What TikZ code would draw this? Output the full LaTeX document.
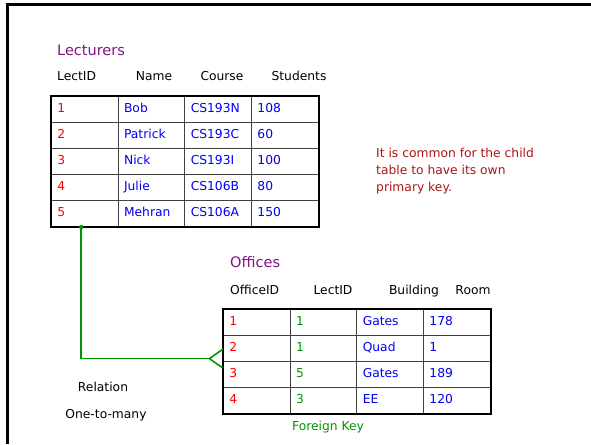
\documentclass[tikz,border=0pt]{standalone}
\usepackage{fontspec}
\setmainfont{DejaVu Sans}
\usetikzlibrary{matrix,positioning}

\definecolor{titlepurple}{RGB}{130,20,130}
\definecolor{keyred}{RGB}{250,0,0}
\definecolor{valblue}{RGB}{0,0,240}
\definecolor{fkgreen}{RGB}{0,150,0}
\definecolor{notered}{RGB}{170,20,20}

\tikzset{
  tabtitle/.style={text=titlepurple, font=\fontsize{14.5}{17}\selectfont, anchor=west, inner sep=0pt},
  colhead/.style={font=\fontsize{12.3}{14}\selectfont, inner sep=0pt, text height=9pt, text depth=3pt},
  plain/.style={font=\fontsize{12.3}{14}\selectfont, inner sep=0pt},
  tbl/.style={matrix of nodes, anchor=north west, inner sep=0pt,
    column sep=-0.9pt, row sep=-0.9pt,
    nodes={draw=black!75, line width=0.9pt, minimum height=26pt, text width=54.7pt,
      text height=9pt, text depth=3pt,
      inner xsep=6pt, inner ysep=0pt, align=left, text=valblue,
      font=\fontsize{12.3}{14}\selectfont},
    column 1/.style={nodes={text=keyred}}},
  fk/.style={draw=fkgreen, line width=1.6pt},
}

\begin{document}
\begin{tikzpicture}[x=1pt,y=-1pt]
    \useasboundingbox (0,0) rectangle (591,444);

    % frame
    \draw [line width=2.4pt] (7.5,444) |- (591,4.5) ;

    % Lecturers
    \node [tabtitle] (lect-title) at (57,50) {Lecturers};
    \node [colhead, anchor=west] (lect-h1) at (57,78) {LectID};
    \node [colhead] (lect-h2) at (154,78) {Name};
    \node [colhead] (lect-h3) at (222,78) {Course};
    \node [colhead] (lect-h4) at (299,78) {Students};

    \matrix (lect) [tbl] at (50.7,96) {
      1 & Bob     & CS193N & 108 \\
      2 & Patrick & CS193C & 60  \\
      3 & Nick    & CS193I & 100 \\
      4 & Julie   & CS106B & 80  \\
      5 & Mehran  & CS106A & 150 \\
    };
    \draw [line width=1.8pt] (lect-1-1.north west) rectangle (lect-5-4.south east) ;

    % Offices
    \node [tabtitle] (off-title) at (230,262) {Offices};
    \node [colhead, anchor=west] (off-h1) at (230,291) {OfficeID};
    \node [colhead] (off-h2) at (333,291) {LectID};
    \node [colhead] (off-h3) at (414,291) {Building};
    \node [colhead] (off-h4) at (473,291) {Room};

    \matrix (off) [tbl, column 2/.style={nodes={text=fkgreen}}] at (222.7,309) {
      1 & 1 & Gates & 178 \\
      2 & 1 & Quad  & 1   \\
      3 & 5 & Gates & 189 \\
      4 & 3 & EE    & 120 \\
    };
    \draw [line width=1.8pt] (off-1-1.north west) rectangle (off-4-4.south east) ;

    % relation
    \coordinate (fk-top) at ([xshift=-3.5pt]lect-5-1.south) ;
    \coordinate (crow) at ([xshift=-13.5pt,yshift=3.5pt]off-2-1.south west) ;
    \fill [fkgreen] (fk-top) circle (2.2pt) ;
    \draw [fk] (fk-top) |- (crow) ;
    \draw [fk] ([yshift=13pt]off-2-1.south west) -- (crow) -- ([yshift=-6pt]off-2-1.south west) ;

    \node [plain] (rel) at (103,387) {Relation};
    \node [plain] (card) at (106,415) {One-to-many};
    \node [plain, text=fkgreen] (fk-label) at (328,427) {Foreign Key};

    \node [plain, text=notered, anchor=west, align=left, font=\fontsize{12.3}{17}\selectfont]
      (note) at (376,171) {It is common for the child\\table to have its own\\primary key.};

\end{tikzpicture}
\end{document}
